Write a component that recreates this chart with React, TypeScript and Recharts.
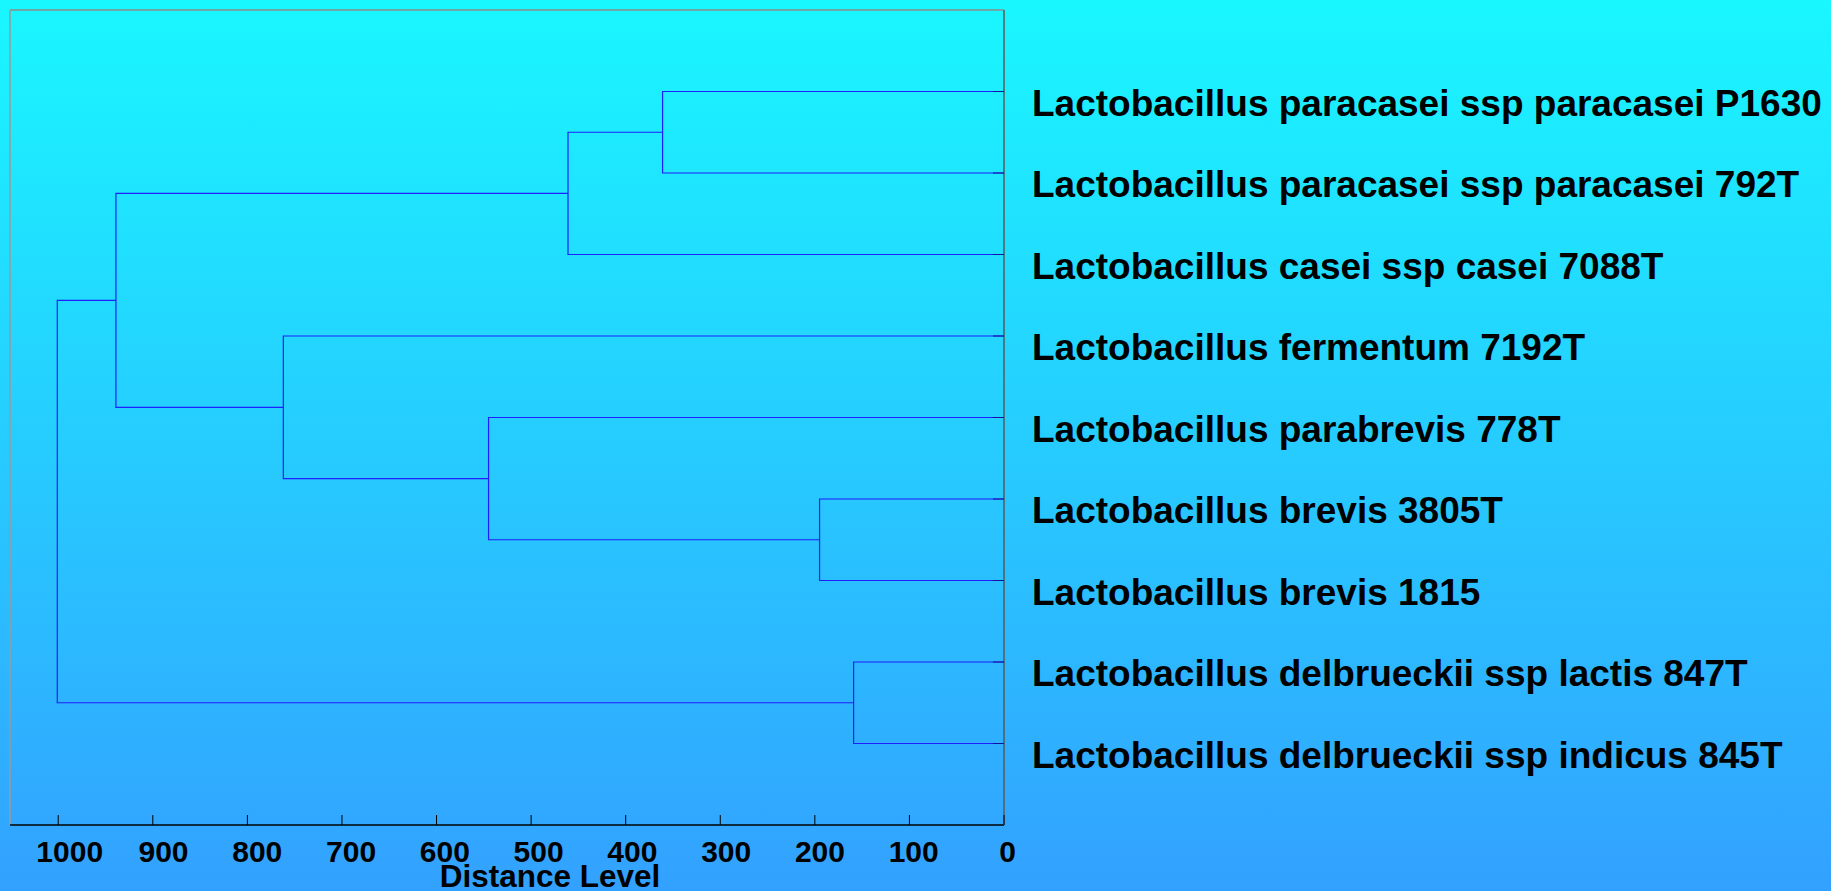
import React from 'react';
import { ScatterChart, Scatter, XAxis, YAxis, ReferenceLine } from 'recharts';

const leafNames: string[] = [
  'Lactobacillus paracasei ssp paracasei P1630',
  'Lactobacillus paracasei ssp paracasei 792T',
  'Lactobacillus casei ssp casei 7088T',
  'Lactobacillus fermentum 7192T',
  'Lactobacillus parabrevis 778T',
  'Lactobacillus brevis 3805T',
  'Lactobacillus brevis 1815',
  'Lactobacillus delbrueckii ssp lactis 847T',
  'Lactobacillus delbrueckii ssp indicus 845T',
];

// Each merge joins two children: "L<i>" = leaf i, "M<k>" = merge k
const mergeLeft: string[] = ['L0', 'M0', 'L5', 'L4', 'L3', 'M1', 'L7', 'M5'];
const mergeRight: string[] = ['L1', 'L2', 'L6', 'M2', 'M3', 'M4', 'L8', 'M6'];
const mergeHeights: number[] = [361, 461, 195, 545, 762, 939, 159, 1001];

const distanceTicks: number[] = [0, 100, 200, 300, 400, 500, 600, 700, 800, 900, 1000];
const leafTicks: number[] = [1, 2, 3, 4, 5, 6, 7, 8, 9];

const W = 1831;
const H = 891;
const FONT = '"Liberation Sans", Arial, Helvetica, sans-serif';
const LINE = '#1f1fff';

type Node = { d: number; y: number };

function buildLinks() {
  const merges: Node[] = [];
  const get = (ref: string): Node => {
    const idx = parseInt(ref.slice(1), 10);
    if (ref[0] === 'L') return { d: 0, y: idx + 1 };
    return merges[idx];
  };
  const links: { x: number; y: number }[][] = [];
  mergeHeights.forEach((h, k) => {
    const a = get(mergeLeft[k]);
    const b = get(mergeRight[k]);
    merges.push({ d: h, y: (a.y + b.y) / 2 });
    links.push([
      { x: a.d, y: a.y },
      { x: h, y: a.y },
      { x: h, y: b.y },
      { x: b.d, y: b.y },
    ]);
  });
  return links;
}

const links = buildLinks();

const XTick = (props: any) => {
  const { x, y, payload } = props;
  const v = payload.value as number;
  const lx = x + 3.5 + v * 0.008;
  return (
    <g>
      <line x1={x} x2={x} y1={y - 10} y2={y} stroke="#000" strokeWidth={1} />
      <text
        x={lx}
        y={y + 37}
        textAnchor="middle"
        fontFamily={FONT}
        fontWeight="bold"
        fontSize={30}
        fill="#000"
      >
        {v}
      </text>
    </g>
  );
};

const YTick = (props: any) => {
  const { x, y, payload } = props;
  const name = leafNames[(payload.value as number) - 1];
  return (
    <g>
      <line x1={x - 11} x2={x} y1={y} y2={y} stroke="#12129a" strokeWidth={1} />
      <text
        x={x + 28}
        y={y + 24}
        textAnchor="start"
        fontFamily={FONT}
        fontWeight="bold"
        fontSize={37}
        fill="#000"
      >
        {name}
      </text>
    </g>
  );
};

const AxisTitle = (props: any) => {
  const vb = props.viewBox || { x: 10, y: 825, width: 994 };
  return (
    <text
      x={vb.x + vb.width / 2 + 43}
      y={vb.y + 62}
      textAnchor="middle"
      fontFamily={FONT}
      fontWeight="bold"
      fontSize={31.5}
      fill="#000"
    >
      Distance Level
    </text>
  );
};

const NoShape = () => <g />;

export default function App() {
  return (
    <div
      style={{
        position: 'absolute',
        left: 0,
        top: 0,
        width: W,
        height: H,
        background: 'linear-gradient(to bottom, #19f7ff 0%, #33a1ff 100%)',
        fontFamily: FONT,
      }}
    >
      <ScatterChart width={W} height={H} margin={{ top: 10, right: 0, bottom: 0, left: 10 }}>
        <XAxis
          type="number"
          dataKey="x"
          domain={[0, 1051]}
          reversed
          allowDataOverflow
          ticks={distanceTicks}
          interval={0}
          height={66}
          tickSize={0}
          tickMargin={0}
          tickLine={false}
          axisLine={{ stroke: '#000', strokeWidth: 1.5 }}
          tick={<XTick />}
          label={{ content: <AxisTitle /> }}
        />
        <YAxis
          type="number"
          dataKey="y"
          domain={[0, 10]}
          reversed
          allowDataOverflow
          orientation="right"
          ticks={leafTicks}
          interval={0}
          width={827}
          tickSize={0}
          tickMargin={0}
          tickLine={false}
          axisLine={{ stroke: '#5a5a5a', strokeWidth: 1.5 }}
          tick={<YTick />}
        />
        <ReferenceLine y={0} stroke="#8c8c8c" strokeWidth={1.5} />
        <ReferenceLine x={1051} stroke="#9a9a9a" strokeWidth={1.5} />
        {links.map((pts, i) => (
          <Scatter
            key={i}
            data={pts}
            line={{ stroke: LINE, strokeWidth: 1.2 }}
            lineType="joint"
            shape={<NoShape />}
            isAnimationActive={false}
          />
        ))}
      </ScatterChart>
    </div>
  );
}
